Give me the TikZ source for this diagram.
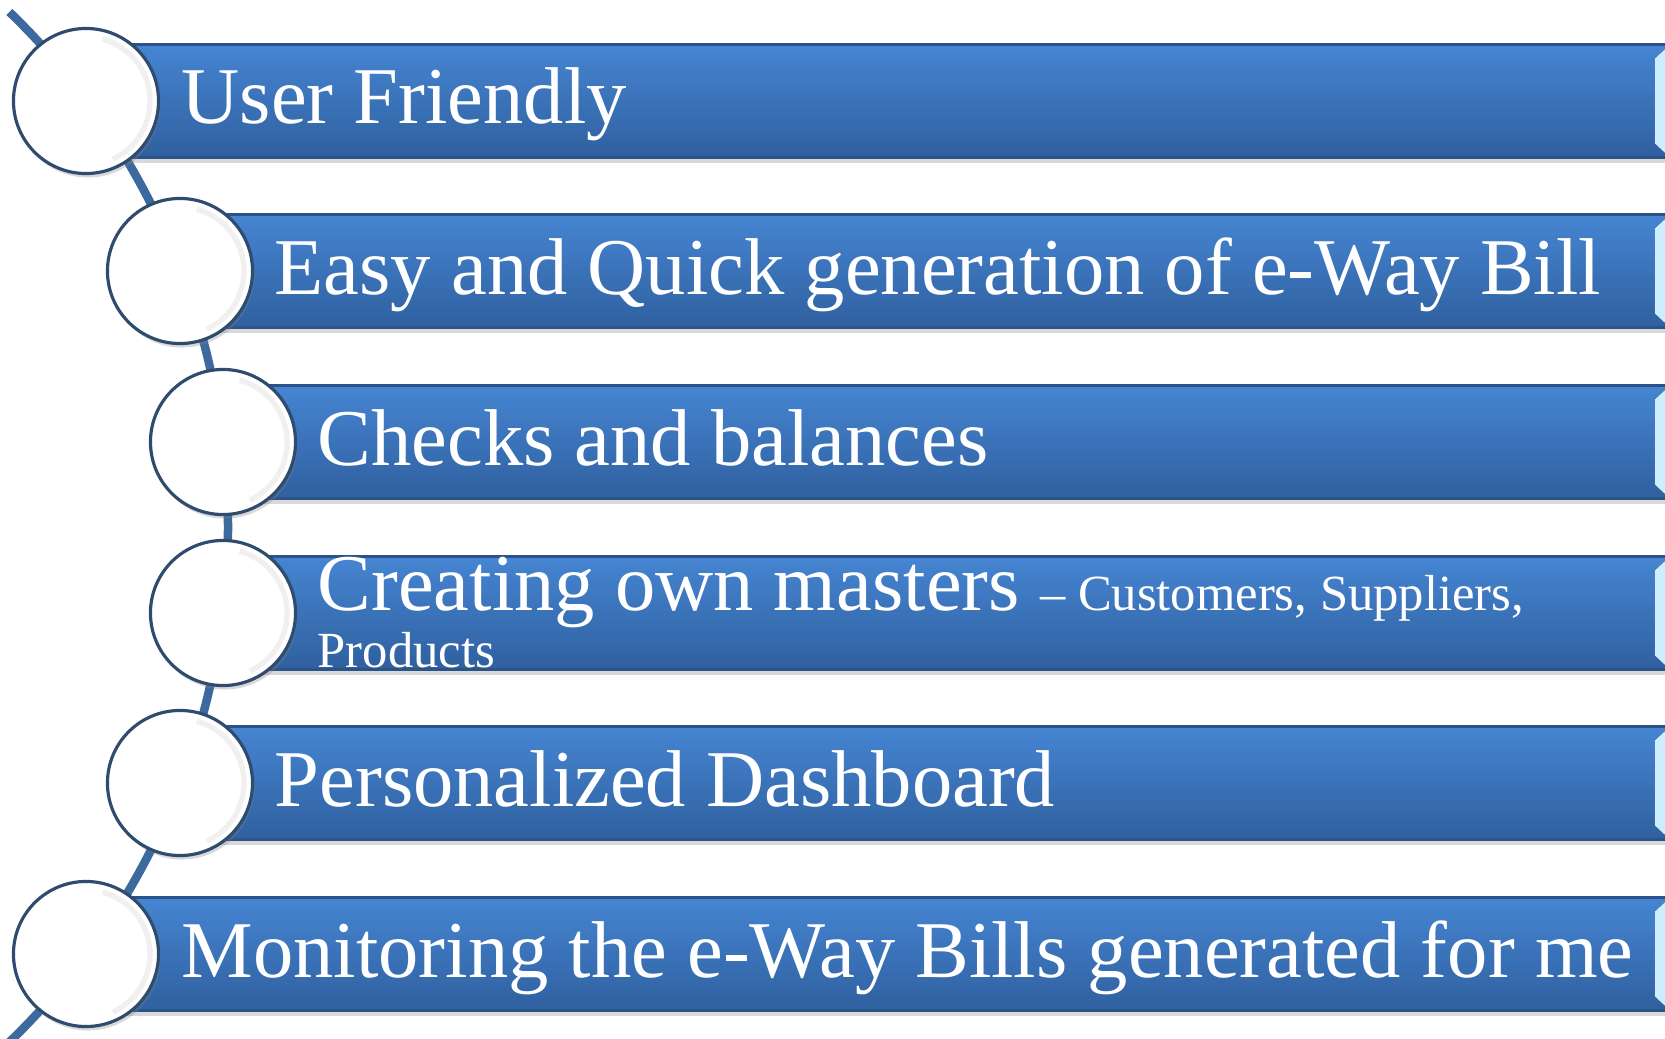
\documentclass[tikz,border=0pt]{standalone}
\usepackage{fontspec}
\setmainfont{Liberation Serif}
\usetikzlibrary{shadows}

\definecolor{barTop}{HTML}{4685D2}
\definecolor{barMid}{HTML}{3B77C3}
\definecolor{barBot}{HTML}{2F609F}
\definecolor{barEdge}{HTML}{2B5388}
\definecolor{spineBlue}{HTML}{3C6A9E}
\definecolor{ringNavy}{HTML}{2F4C6E}
\definecolor{bevelDeep}{HTML}{7DBFEE}
\definecolor{bevelPale}{HTML}{CDEEFF}

\begin{document}
\begin{tikzpicture}[
    x=0.01cm,
    y=0.01cm,
    font=\fontsize{22.9}{27}\selectfont,
    spine/.style={
        draw=spineBlue,
        line width=0.085cm
    },
    bar/.style={
        draw=barEdge,
        line width=0.6pt,
        top color=barTop,
        middle color=barMid,
        bottom color=barBot,
        minimum height=1.13cm,
        inner sep=0pt,
        anchor=west,
        drop shadow={shadow xshift=0pt,shadow yshift=-0.05cm,opacity=0.3},
        path picture={
            \fill[left color=bevelDeep,right color=bevelPale]
                (path picture bounding box.north east)
                -- ([xshift=-0.15cm,yshift=-0.14cm]path picture bounding box.north east)
                -- ([xshift=-0.15cm,yshift=0.14cm]path picture bounding box.south east)
                -- (path picture bounding box.south east) -- cycle;
        }
    },
    ring/.style={
        circle,
        draw=ringNavy,
        line width=0.9pt,
        fill=white,
        minimum size=1.45cm,
        inner sep=0pt,
        drop shadow={shadow xshift=0.02cm,shadow yshift=-0.04cm,opacity=0.3},
        path picture={
            \draw[black!6,line width=1.5pt]
                ([shift={(-65:0.64cm)}]path picture bounding box.center)
                arc[start angle=-65,end angle=75,radius=0.64cm];
        }
    },
    label/.style={
        text=white,
        anchor=base west,
        inner sep=0pt
    },
    small/.style={
        font=\fontsize{14.4}{17}\selectfont
    }
]
    \useasboundingbox (0,0) rectangle (1665,1038);
    \clip (0,0) rectangle (1665,1038);

    % the curved line behind the circles
    \coordinate (hub) at (-488,511);
    \draw[spine] ([shift={(46:716)}]hub)
        arc[start angle=46,end angle=-48,radius=716];

    \node[bar,minimum width=15.82cm] (b1) at (86,937) {};
    \node[bar,minimum width=14.88cm] (b2) at (180,767) {};
    \node[bar,minimum width=14.45cm] (b3) at (223,596) {};
    \node[bar,minimum width=14.45cm] (b4) at (223,425) {};
    \node[bar,minimum width=14.88cm] (b5) at (180,255) {};
    \node[bar,minimum width=15.82cm] (b6) at (86,84) {};

    \node[ring] (c1) at (86,937) {};
    \node[ring] (c2) at (180,767) {};
    \node[ring] (c3) at (223,596) {};
    \node[ring] (c4) at (223,425) {};
    \node[ring] (c5) at (180,255) {};
    \node[ring] (c6) at (86,84) {};

    \node[label] (t1) at (181,915) {User Friendly};
    \node[label] (t2) at (274,744) {Easy and Quick generation of e-Way Bill};
    \node[label] (t3) at (317,573) {Checks and balances};
    \node[label] (t4) at (317,428)
        {Creating own masters {\fontsize{14.4}{17}\selectfont – Customers, Suppliers,}};
    \node[label,small] (t4-more) at (317,371) {Products};
    \node[label] (t5) at (274,232) {Personalized Dashboard};
    \node[label] (t6) at (181,61) {Monitoring the e-Way Bills generated for me};
\end{tikzpicture}
\end{document}
